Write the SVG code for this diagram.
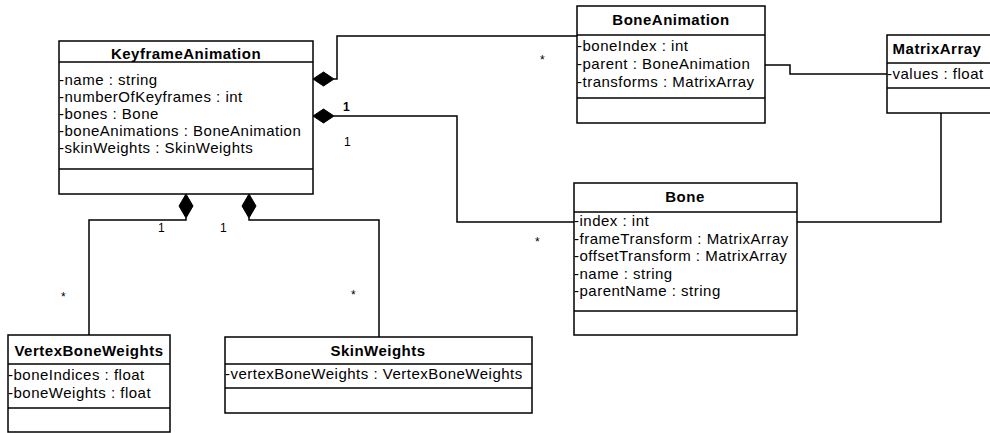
<svg xmlns="http://www.w3.org/2000/svg" width="990" height="433" viewBox="0 0 990 433">
<style>
.box{fill:#fff;stroke:#000;stroke-width:1.5}
.sep{stroke:#000;stroke-width:1.5}
.t{font-family:"Liberation Sans",Arial,sans-serif;font-size:15px;font-weight:bold;text-anchor:middle;letter-spacing:0.5px;fill:#000}
.a{font-family:"Liberation Sans",Arial,sans-serif;font-size:15px;letter-spacing:0.5px;fill:#000}
.m{font-family:"Liberation Sans",Arial,sans-serif;font-size:12px;fill:#000}
.c{fill:none;stroke:#000;stroke-width:1.5}
.d{fill:#000;stroke:#000;stroke-width:1}
</style>
<rect width="990" height="433" fill="#fff"/>
<g id="KeyframeAnimation">
<rect class="box" x="59" y="41" width="254" height="153"/>
<line class="sep" x1="59" y1="62" x2="313" y2="62"/>
<line class="sep" x1="59" y1="169" x2="313" y2="169"/>
<text class="t" x="186" y="59">KeyframeAnimation</text>
<text class="a" x="59" y="85">-name : string</text>
<text class="a" x="59" y="102">-numberOfKeyframes : int</text>
<text class="a" x="59" y="119">-bones : Bone</text>
<text class="a" x="59" y="136">-boneAnimations : BoneAnimation</text>
<text class="a" x="59" y="153">-skinWeights : SkinWeights</text>
</g>
<g id="BoneAnimation">
<rect class="box" x="577" y="6" width="188" height="117"/>
<line class="sep" x1="577" y1="35" x2="765" y2="35"/>
<line class="sep" x1="577" y1="98" x2="765" y2="98"/>
<text class="t" x="671" y="25">BoneAnimation</text>
<text class="a" x="577" y="51">-boneIndex : int</text>
<text class="a" x="577" y="69">-parent : BoneAnimation</text>
<text class="a" x="577" y="87">-transforms : MatrixArray</text>
</g>
<g id="MatrixArray">
<rect class="box" x="887" y="35" width="110" height="78"/>
<line class="sep" x1="887" y1="63" x2="990" y2="63"/>
<line class="sep" x1="887" y1="88" x2="990" y2="88"/>
<text class="t" x="937" y="54">MatrixArray</text>
<text class="a" x="887" y="79">-values : float</text>
</g>
<g id="Bone">
<rect class="box" x="574" y="183" width="223" height="152"/>
<line class="sep" x1="574" y1="212" x2="797" y2="212"/>
<line class="sep" x1="574" y1="311" x2="797" y2="311"/>
<text class="t" x="685" y="202">Bone</text>
<text class="a" x="574" y="226">-index : int</text>
<text class="a" x="574" y="243.5">-frameTransform : MatrixArray</text>
<text class="a" x="574" y="261">-offsetTransform : MatrixArray</text>
<text class="a" x="574" y="278.5">-name : string</text>
<text class="a" x="574" y="296">-parentName : string</text>
</g>
<g id="VertexBoneWeights">
<rect class="box" x="8" y="335" width="162" height="97"/>
<line class="sep" x1="8" y1="364" x2="170" y2="364"/>
<line class="sep" x1="8" y1="408" x2="170" y2="408"/>
<text class="t" x="89" y="356">VertexBoneWeights</text>
<text class="a" x="8" y="380">-boneIndices : float</text>
<text class="a" x="8" y="398">-boneWeights : float</text>
</g>
<g id="SkinWeights">
<rect class="box" x="225" y="337" width="307" height="76"/>
<line class="sep" x1="225" y1="364" x2="532" y2="364"/>
<line class="sep" x1="225" y1="388" x2="532" y2="388"/>
<text class="t" x="378" y="356">SkinWeights</text>
<text class="a" x="225" y="379">-vertexBoneWeights : VertexBoneWeights</text>
</g>
<g id="connectors">
<path class="c" d="M334,79 H337 V36 H577"/>
<polygon class="d" points="313,79 323.5,72 334,79 323.5,86"/>
<path class="c" d="M334,116 H457 V222 H574"/>
<polygon class="d" points="313,116 323.5,109 334,116 323.5,123"/>
<path class="c" d="M765,65 H790 V74 H887"/>
<path class="c" d="M941,113 V222 H797"/>
<path class="c" d="M186,218 V220 H89 V335"/>
<polygon class="d" points="186,194 193,206 186,218 179,206"/>
<path class="c" d="M249,218 V220 H379 V337"/>
<polygon class="d" points="249,194 256,206 249,218 242,206"/>
<text class="m" x="343" y="111" font-weight="bold">1</text>
<text class="m" x="344" y="146">1</text>
<text class="m" x="158" y="232">1</text>
<text class="m" x="220" y="232">1</text>
<text class="m" x="540" y="64">*</text>
<text class="m" x="535" y="246">*</text>
<text class="m" x="61" y="301">*</text>
<text class="m" x="351" y="299">*</text>
</g>
</svg>
